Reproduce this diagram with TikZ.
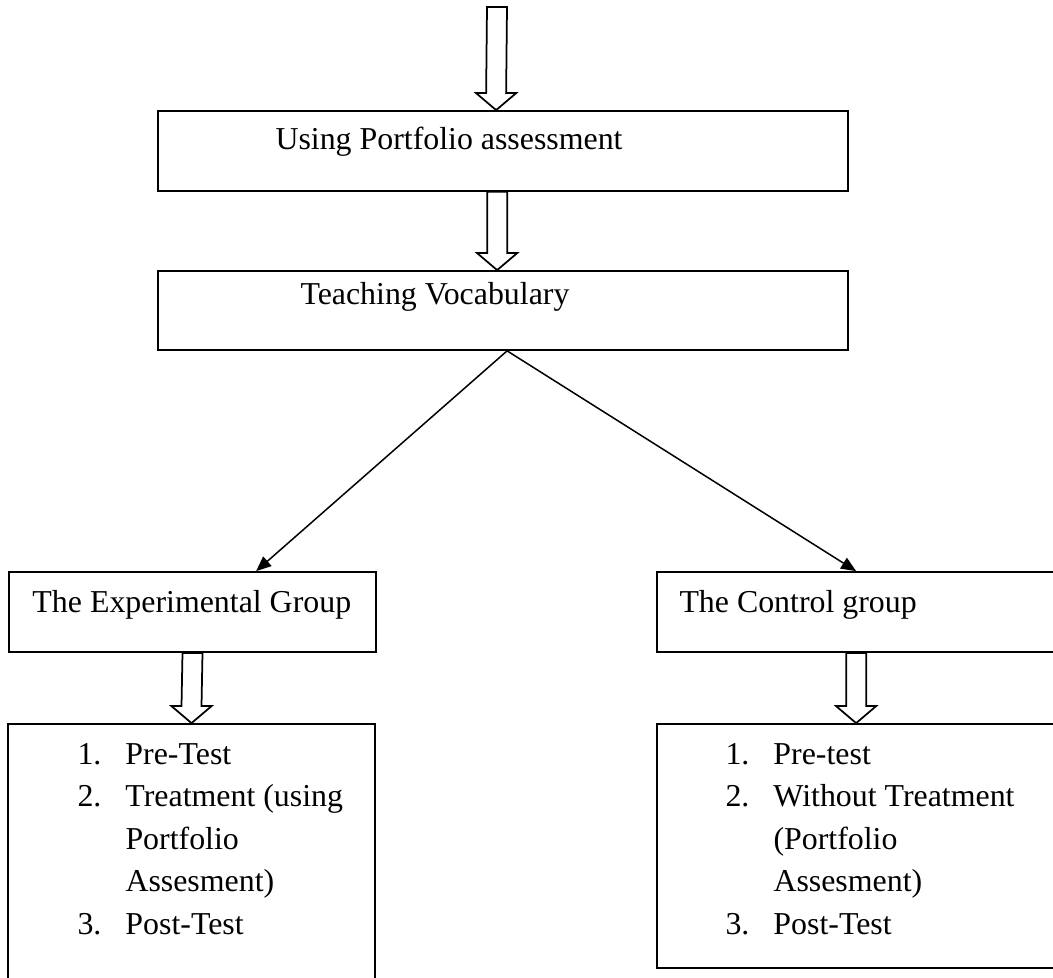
\documentclass[tikz,border=0pt]{standalone}
\usepackage{fontspec}
\setmainfont{Liberation Serif}
\usetikzlibrary{calc,arrows.meta}

% hollow block arrow pointing down from #1 to #2 (same x)
\newcommand{\hollowdown}[2]{%
  \draw[hollow] ($(#1)+(-10,0)$) -- ($(#2)+(-10,-17)$) -- ($(#2)+(-20,-17)$) -- (#2)
    -- ($(#2)+(20,-17)$) -- ($(#2)+(10,-17)$) -- ($(#1)+(10,0)$) -- cycle;}

\begin{document}
\begin{tikzpicture}[x=0.4pt,y=-0.4pt,
   font=\fontsize{12.75}{17}\selectfont,
   box/.style={draw,line width=0.7pt,inner sep=0pt},
   hollow/.style={draw,fill=white,line width=0.7pt,line join=miter},
   link/.style={line width=0.6pt,-{Triangle[length=6pt,width=5pt]}},
   txt/.style={anchor=base west,inner sep=0pt}]
   \clip (0,0) rectangle (1053,978);
   % boxes
   \node[box,minimum width=276pt,minimum height=32pt]     (use)      at (503,151)   {};
   \node[box,minimum width=276pt,minimum height=31.6pt]   (teach)    at (503,310.5) {};
   \node[box,minimum width=146.8pt,minimum height=32pt]   (exp)      at (192.5,612) {};
   \node[box,minimum width=169.2pt,minimum height=32pt]   (ctrl)     at (868.5,612) {};
   \node[box,minimum width=146.8pt,minimum height=114.4pt] (explist) at (191.5,867) {};
   \node[box,minimum width=169.2pt,minimum height=97.6pt] (ctrllist) at (868.5,846) {};
   % texts
   \node[txt] (usetxt)   at (275,150) {Using Portfolio assessment};
   \node[txt] (teachtxt) at (300,305) {Teaching Vocabulary};
   \node[txt] (exptxt)   at (32,613)  {The Experimental Group};
   \node[txt] (ctrltxt)  at (679,612) {The Control group};
   \node[txt] (exptasks) at (77,764) {\begin{tabular}[t]{@{}p{19.2pt}@{}l@{}}
      1. & Pre-Test\\ 2. & Treatment (using\\ & Portfolio\\ & Assesment)\\ 3. & Post-Test\end{tabular}};
   \node[txt] (ctrltasks) at (725,764) {\begin{tabular}[t]{@{}p{19.2pt}@{}l@{}}
      1. & Pre-test\\ 2. & Without Treatment\\ & (Portfolio\\ & Assesment)\\ 3. & Post-Test\end{tabular}};
   % block arrows
   \coordinate (top) at (497,7);
   \coordinate (t1) at ($(use.north west)+(339,0)$);
   \coordinate (s2) at ($(use.south west)+(340,0)$);
   \coordinate (t2) at (s2 |- teach.north);
   \coordinate (s4) at ($(ctrl.south west)+(200,0)$);
   \coordinate (t4) at (s4 |- ctrllist.north);
   \hollowdown{top}{t1}
   \hollowdown{s2}{t2}
   \hollowdown{exp.south}{explist.north}
   \hollowdown{s4}{t4}
   % split
   \draw[link] ($(teach.south west)+(350,0)$) -- ($(exp.north west)+(248,0)$);
   \draw[link] ($(teach.south west)+(350,0)$) -- ($(ctrl.north west)+(200,0)$);
\end{tikzpicture}
\end{document}
